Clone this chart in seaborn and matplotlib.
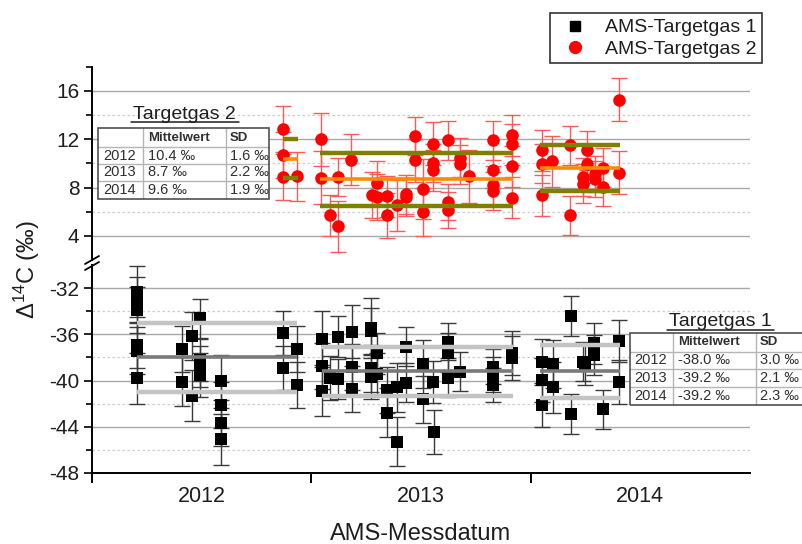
import numpy as np
import pandas as pd
import matplotlib
matplotlib.use("Agg")
import matplotlib.pyplot as plt
import seaborn as sns
from matplotlib.lines import Line2D
from matplotlib.patches import Rectangle

# ---------------- data ----------------
years = [2012, 2013, 2014]
year_labels = ["2012", "2013", "2014"]

# AMS-Targetgas 2 (red circles): measurement date (decimal year), value, 1-sigma error
red_date = [2012.370, 2012.370, 2012.370, 2012.436, 2012.544, 2012.544, 2012.585,
            2012.623, 2012.623, 2012.681, 2012.775, 2012.798, 2012.801, 2012.847,
            2012.847, 2012.889, 2012.932, 2012.932, 2012.973, 2012.973, 2013.008,
            2013.008, 2013.056, 2013.056, 2013.056, 2013.125, 2013.125, 2013.125,
            2013.178, 2013.178, 2013.219, 2013.327, 2013.327, 2013.327, 2013.327,
            2013.417, 2013.417, 2013.417, 2013.417, 2013.551, 2013.551, 2013.551,
            2013.599, 2013.680, 2013.680, 2013.738, 2013.738, 2013.756, 2013.756,
            2013.794, 2013.794, 2013.832, 2013.832, 2013.901, 2013.901]
red_val = [12.87, 10.72, 8.87, 8.92, 11.99, 8.81, 5.69,
           8.87, 4.78, 10.30, 7.35, 8.37, 7.21, 7.29,
           5.69, 6.52, 7.21, 7.45, 12.26, 10.25, 7.90,
           5.97, 11.63, 10.02, 9.42, 11.90, 6.80, 6.17,
           10.47, 9.92, 8.92, 11.90, 9.48, 8.18, 7.71,
           12.32, 11.57, 9.75, 7.16, 11.07, 9.97, 7.35,
           10.16, 11.49, 5.69, 8.87, 8.32, 11.07, 9.97,
           9.14, 8.73, 9.64, 8.04, 9.23, 15.27]
red_err = [1.9, 1.9, 1.9, 2.0, 2.2, 2.2, 1.7,
           1.6, 2.1, 2.1, 1.9, 1.8, 1.9, 1.7,
           1.9, 2.1, 1.6, 1.6, 1.6, 1.8, 2.5,
           2.0, 1.8, 1.6, 1.7, 1.6, 1.5, 1.5,
           1.6, 1.6, 2.2, 1.6, 1.5, 1.6, 1.6,
           1.7, 1.7, 1.7, 1.7, 1.7, 1.6, 1.7,
           2.1, 1.6, 1.6, 1.6, 1.6, 1.6, 1.6,
           1.5, 1.5, 1.6, 1.6, 1.8, 1.8]

# AMS-Targetgas 1 (black squares)
black_date = [2011.704, 2011.704, 2011.704, 2011.704, 2011.704, 2011.704,
              2011.909, 2011.909, 2011.957, 2011.957,
              2011.992, 2011.992, 2011.992, 2011.992,
              2012.087, 2012.087, 2012.087, 2012.087,
              2012.370, 2012.370, 2012.436, 2012.436,
              2012.547, 2012.547, 2012.547, 2012.585, 2012.623, 2012.623,
              2012.684, 2012.684, 2012.684, 2012.772, 2012.772, 2012.772, 2012.772,
              2012.801, 2012.801, 2012.847, 2012.847, 2012.889, 2012.889,
              2012.932, 2012.932, 2013.008, 2013.008, 2013.056, 2013.061,
              2013.125, 2013.125, 2013.125, 2013.178,
              2013.327, 2013.327, 2013.327, 2013.414, 2013.414,
              2013.551, 2013.551, 2013.551, 2013.601, 2013.601,
              2013.683, 2013.683, 2013.738, 2013.748, 2013.790, 2013.790,
              2013.832, 2013.902, 2013.902]
black_val = [-32.3, -33.0, -33.9, -36.9, -37.4, -39.8,
             -37.3, -40.1, -36.15, -41.3,
             -34.6, -38.2, -38.8, -39.5,
             -40.05, -42.1, -43.7, -45.1,
             -35.9, -38.9, -37.3, -40.4,
             -36.41, -38.75, -40.88, -39.76, -36.2, -39.87,
             -35.78, -38.8, -40.76, -35.49, -35.7, -38.95, -39.67,
             -37.65, -39.44, -40.82, -42.78, -40.59, -45.29,
             -37.07, -40.19, -38.57, -41.63, -40.1, -44.43,
             -36.64, -37.59, -39.76, -39.24,
             -38.8, -39.47, -40.39, -37.65, -38.08,
             -38.37, -39.96, -42.12, -38.57, -40.59,
             -34.42, -42.9, -38.37, -38.66, -36.79, -37.8,
             -42.49, -36.56, -40.1]
black_err = [2.2, 2.0, 2.0, 2.0, 2.0, 2.2,
             2.0, 2.1, 2.1, 2.2,
             1.7, 1.8, 1.8, 1.9,
             2.3, 2.0, 2.0, 2.2,
             1.9, 1.9, 2.0, 2.0,
             2.4, 2.0, 2.2, 1.9, 1.8, 1.7,
             2.3, 2.0, 2.0, 2.6, 2.0, 2.0, 1.9,
             1.8, 1.8, 2.0, 2.1, 2.1, 2.1,
             1.7, 1.7, 2.1, 2.0, 1.8, 1.9,
             1.6, 1.7, 1.7, 1.7,
             1.5, 1.5, 1.5, 1.9, 1.9,
             2.0, 1.9, 1.9, 2.1, 2.2,
             1.7, 1.75, 1.7, 1.7, 1.8, 1.7,
             1.7, 1.8, 1.9]

# yearly statistics (tables) and averaging periods
gas2_mean = [10.4, 8.7, 9.6]
gas2_sd = [1.6, 2.2, 1.9]
gas2_start = [2012.370, 2012.540, 2013.543]
gas2_end = [2012.440, 2013.421, 2013.908]

gas1_mean = [-38.0, -39.2, -39.2]
gas1_sd = [3.0, 2.1, 2.3]
gas1_start = [2011.704, 2012.547, 2013.543]
gas1_end = [2012.436, 2013.421, 2013.908]

series_labels = ["AMS-Targetgas 1", "AMS-Targetgas 2"]

# ---------------- style ----------------
sns.set_theme(style="white")
plt.rcParams["font.family"] = ["Liberation Sans", "DejaVu Sans"]
plt.rcParams["mathtext.fontset"] = "custom"
plt.rcParams["mathtext.rm"] = "Liberation Sans"
plt.rcParams["mathtext.it"] = "Liberation Sans:italic"
plt.rcParams["mathtext.bf"] = "Liberation Sans:bold"

W_PX, H_PX = 802, 544
fig = plt.figure(figsize=(W_PX / 100, H_PX / 100), dpi=100)


def fx(px):
    return px / W_PX


def fy(py):
    return 1 - py / H_PX


LEFT, RIGHT = 92, 750
TOP_T, TOP_B = 66.8, 260
BOT_T, BOT_B = 265, 473

ax_top = fig.add_axes([fx(LEFT), fy(TOP_B), fx(RIGHT) - fx(LEFT), (TOP_B - TOP_T) / H_PX])
ax_bot = fig.add_axes([fx(LEFT), fy(BOT_B), fx(RIGHT) - fx(LEFT), (BOT_B - BOT_T) / H_PX])

TXT = "#1e1e1e"
GRID_MAJ = "#a8a8a8"
GRID_MIN = "#cdcdcd"

red_df = pd.DataFrame({"date": red_date, "val": red_val, "err": red_err})
black_df = pd.DataFrame({"date": black_date, "val": black_val, "err": black_err})

# error bars
ax_top.errorbar(red_df["date"], red_df["val"], yerr=red_df["err"], fmt="none",
                ecolor="#ff5a5a", elinewidth=1.0, capsize=5.5, capthick=1.0, zorder=2)
ax_bot.errorbar(black_df["date"], black_df["val"], yerr=black_df["err"], fmt="none",
                ecolor="#3a3a3a", elinewidth=1.0, capsize=5.5, capthick=1.0, zorder=2)

# markers
sns.scatterplot(data=red_df, x="date", y="val", ax=ax_top, marker="o", s=82,
                color="#ff0000", edgecolor="#ff0000", linewidth=0, zorder=3, legend=False)
sns.scatterplot(data=black_df, x="date", y="val", ax=ax_bot, marker="s", s=68,
                color="#000000", edgecolor="#000000", linewidth=0, zorder=3, legend=False)

# yearly mean and +/- SD lines
for m, sd, a, b in zip(gas2_mean, gas2_sd, gas2_start, gas2_end):
    ax_top.hlines([m + sd, m - sd], a, b, colors="#7f7f00", linewidth=3.2, zorder=4)
    ax_top.hlines([m], a, b, colors="#ff8a00", linewidth=2.6, zorder=4)
for m, sd, a, b in zip(gas1_mean, gas1_sd, gas1_start, gas1_end):
    ax_bot.hlines([m + sd, m - sd], a, b, colors="#c4c4c4", linewidth=3.2, zorder=4)
    ax_bot.hlines([m], a, b, colors="#7a7a7a", linewidth=2.6, zorder=4)

# axes setup
for ax, lim, maj, mino in [(ax_top, (2, 18), [4, 8, 12, 16], [6, 10, 14, 18]),
                           (ax_bot, (-48, -30), [-48, -44, -40, -36, -32], [-46, -42, -38, -34])]:
    ax.set_xlim(2011.5, 2014.5)
    ax.set_ylim(*lim)
    ax.set_yticks(maj)
    ax.set_yticks(mino, minor=True)
    ax.set_yticklabels([str(v) for v in maj])
    for v in maj:
        if lim[0] < v < lim[1]:
            ax.axhline(v, color=GRID_MAJ, linewidth=1.0, zorder=0.5)
    for v in mino:
        if lim[0] < v < lim[1]:
            ax.axhline(v, color=GRID_MIN, linewidth=0.9, linestyle=(0, (2, 2)), zorder=0.5)
    ax.tick_params(axis="y", which="major", direction="out", length=6, width=1.2,
                   labelsize=15, colors="black", labelcolor=TXT, pad=3, left=True)
    ax.tick_params(axis="y", which="minor", direction="out", length=4, width=1.2,
                   colors="black", left=True)
    for s in ["top", "right", "bottom"]:
        ax.spines[s].set_visible(False)
    ax.spines["left"].set_color("black")
    ax.spines["left"].set_linewidth(1.4)
    ax.set_xlabel("")
    ax.set_ylabel("")
    ax.patch.set_alpha(0)

ax_top.set_xticks([])
ax_top.tick_params(axis="x", which="both", bottom=False, labelbottom=False)

ax_bot.spines["bottom"].set_visible(True)
ax_bot.spines["bottom"].set_color("black")
ax_bot.spines["bottom"].set_linewidth(1.4)
ax_bot.set_xticks([2011.5, 2012.5, 2013.5])
ax_bot.set_xticklabels(["", "", ""])
ax_bot.set_xticks(years, minor=True)
ax_bot.set_xticklabels(year_labels, minor=True)
ax_bot.tick_params(axis="x", which="major", direction="out", length=7, width=1.4,
                   colors="black", bottom=True)
ax_bot.tick_params(axis="x", which="minor", length=0, labelsize=15.5,
                   labelcolor=TXT, pad=9, bottom=True)

# axis break marks
for dy in (-3, 3):
    fig.add_artist(Line2D([fx(LEFT - 7), fx(LEFT + 7)],
                          [fy(263 + dy + 4), fy(263 + dy - 4)],
                          color="black", linewidth=1.3))

# axis labels
fig.text(fx(27), fy(270), r"Δ$^{\mathregular{14}}$C (‰)", rotation=90,
         ha="center", va="center", fontsize=17, color=TXT)
fig.text(fx(421), fy(540), "AMS-Messdatum", ha="center", va="baseline",
         fontsize=17, color=TXT)

# legend
handles = [Line2D([], [], marker="s", color="black", linestyle="none", markersize=7),
           Line2D([], [], marker="o", color="#ff0000", linestyle="none", markersize=8.5)]
leg = fig.legend(handles, series_labels, loc="upper right",
                 bbox_to_anchor=(fx(762), fy(13)), bbox_transform=fig.transFigure,
                 frameon=True, fancybox=False, edgecolor="#333333", framealpha=1,
                 fontsize=14, borderpad=0.3, labelspacing=0.18, handletextpad=0.6,
                 handlelength=1.9, borderaxespad=0)
leg.get_frame().set_linewidth(1.2)
for t in leg.get_texts():
    t.set_color(TXT)


# tables
def draw_table(title, title_xy, ul, box_x, box_y, rows, mean_vals, sd_vals):
    fig.text(fx(title_xy[0]), fy(title_xy[1]), title, ha="left", va="baseline",
             fontsize=14, color=TXT, zorder=6)
    fig.add_artist(Line2D([fx(ul[0]), fx(ul[1])], [fy(ul[2]), fy(ul[2])],
                          color=TXT, linewidth=1.1, zorder=6))
    x0, x3 = box_x[0], box_x[-1]
    y0, y4 = box_y[0], box_y[-1]
    fig.add_artist(Rectangle((fx(x0), fy(y4)), fx(x3) - fx(x0), fy(y0) - fy(y4),
                             facecolor="white", edgecolor="none", zorder=5))
    for xx in box_x[1:-1]:
        fig.add_artist(Line2D([fx(xx), fx(xx)], [fy(y0), fy(y4)], color="#b5b5b5",
                              linewidth=1.0, zorder=6))
    for yy in box_y[1:-1]:
        fig.add_artist(Line2D([fx(x0), fx(x3)], [fy(yy), fy(yy)], color="#b5b5b5",
                              linewidth=1.0, zorder=6))
    fig.add_artist(Rectangle((fx(x0), fy(y4)), fx(x3) - fx(x0), fy(y0) - fy(y4),
                             facecolor="none", edgecolor="#505050", linewidth=1.2, zorder=7))
    # header
    yc = (box_y[0] + box_y[1]) / 2
    fig.text(fx(box_x[1] + 5), fy(yc), "Mittelwert", ha="left", va="center",
             fontsize=9.5, fontweight="bold", color="#303030", zorder=8)
    fig.text(fx(box_x[2] + 4), fy(yc), "SD", ha="left", va="center",
             fontsize=9.5, fontweight="bold", color="#303030", zorder=8)
    for i, (yr, mv, sv) in enumerate(zip(rows, mean_vals, sd_vals)):
        yc = (box_y[i + 1] + box_y[i + 2]) / 2
        fig.text(fx(box_x[0] + 5), fy(yc), str(yr), ha="left", va="center",
                 fontsize=10.5, color="#303030", zorder=8)
        fig.text(fx(box_x[1] + 5), fy(yc), f"{mv:.1f} ‰", ha="left", va="center",
                 fontsize=10.5, color="#303030", zorder=8)
        fig.text(fx(box_x[2] + 4), fy(yc), f"{sv:.1f} ‰", ha="left", va="center",
                 fontsize=10.5, color="#303030", zorder=8)


draw_table("Targetgas 2", (133, 119), (131, 239, 122),
           [98.3, 143, 226, 269.3], [128.3, 147, 164, 180.7, 199.3],
           years, gas2_mean, gas2_sd)
draw_table("Targetgas 1", (669, 326), (667, 774, 329.5),
           [629.5, 673, 756, 850], [333, 351.7, 369.3, 386.7, 405],
           years, gas1_mean, gas1_sd)

fig.savefig("out.png", dpi=100)
